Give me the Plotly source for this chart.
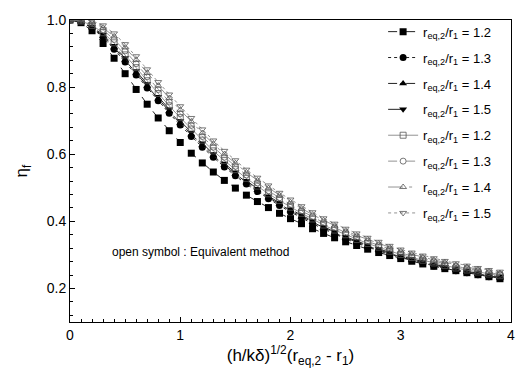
import plotly.graph_objects as go

x = [round(i * 0.1, 1) for i in range(40)]

filled_12 = [1.000, 0.992, 0.968, 0.930, 0.886, 0.840, 0.793, 0.749, 0.708, 0.670,
             0.635, 0.603, 0.574, 0.547, 0.522, 0.499, 0.478, 0.459, 0.441, 0.424,
             0.408, 0.393, 0.378, 0.364, 0.351, 0.339, 0.328, 0.317, 0.307, 0.298,
             0.289, 0.281, 0.273, 0.266, 0.259, 0.253, 0.247, 0.241, 0.235, 0.229]
filled_13 = [1.000, 0.994, 0.976, 0.948, 0.913, 0.875, 0.836, 0.797, 0.759, 0.722,
             0.687, 0.653, 0.621, 0.591, 0.562, 0.536, 0.511, 0.489, 0.467, 0.447,
             0.428, 0.410, 0.393, 0.377, 0.362, 0.348, 0.335, 0.323, 0.312, 0.302,
             0.292, 0.283, 0.275, 0.267, 0.260, 0.253, 0.247, 0.241, 0.235, 0.230]
filled_14 = [1.000, 0.995, 0.978, 0.952, 0.918, 0.881, 0.842, 0.803, 0.765, 0.728,
             0.693, 0.659, 0.627, 0.596, 0.567, 0.541, 0.516, 0.493, 0.471, 0.451,
             0.432, 0.414, 0.397, 0.380, 0.365, 0.351, 0.338, 0.326, 0.315, 0.304,
             0.294, 0.285, 0.277, 0.269, 0.262, 0.255, 0.249, 0.243, 0.237, 0.232]
filled_15 = [1.000, 0.996, 0.980, 0.956, 0.923, 0.887, 0.848, 0.809, 0.771, 0.734,
             0.699, 0.665, 0.633, 0.601, 0.572, 0.546, 0.521, 0.497, 0.475, 0.455,
             0.436, 0.418, 0.401, 0.383, 0.368, 0.354, 0.341, 0.329, 0.318, 0.307,
             0.297, 0.288, 0.280, 0.272, 0.264, 0.257, 0.251, 0.245, 0.239, 0.234]
open_12 = [1.000, 0.997, 0.984, 0.962, 0.932, 0.896, 0.858, 0.819, 0.781, 0.744,
           0.709, 0.675, 0.642, 0.610, 0.581, 0.554, 0.528, 0.505, 0.482, 0.462,
           0.442, 0.424, 0.407, 0.389, 0.374, 0.360, 0.346, 0.334, 0.323, 0.311,
           0.301, 0.292, 0.284, 0.276, 0.268, 0.261, 0.255, 0.249, 0.243, 0.238]
open_13 = [1.000, 0.999, 0.989, 0.970, 0.942, 0.908, 0.870, 0.831, 0.793, 0.756,
           0.721, 0.686, 0.653, 0.621, 0.591, 0.564, 0.538, 0.514, 0.491, 0.470,
           0.450, 0.431, 0.414, 0.396, 0.381, 0.366, 0.353, 0.340, 0.328, 0.317,
           0.306, 0.297, 0.289, 0.280, 0.273, 0.266, 0.260, 0.253, 0.247, 0.242]
open_14 = [1.000, 1.000, 0.994, 0.977, 0.951, 0.918, 0.881, 0.842, 0.804, 0.767,
           0.732, 0.697, 0.663, 0.631, 0.600, 0.573, 0.546, 0.522, 0.499, 0.478,
           0.457, 0.438, 0.420, 0.403, 0.387, 0.372, 0.358, 0.346, 0.334, 0.322,
           0.311, 0.302, 0.293, 0.285, 0.278, 0.270, 0.264, 0.257, 0.251, 0.246]
open_15 = [1.000, 1.000, 0.998, 0.984, 0.960, 0.928, 0.892, 0.853, 0.815, 0.778,
           0.743, 0.708, 0.674, 0.641, 0.610, 0.582, 0.554, 0.530, 0.507, 0.485,
           0.465, 0.445, 0.427, 0.409, 0.393, 0.378, 0.364, 0.351, 0.339, 0.327,
           0.316, 0.307, 0.298, 0.290, 0.282, 0.275, 0.268, 0.261, 0.255, 0.250]

ratios = ["1.2", "1.3", "1.4", "1.5"]
filled_series = [filled_12, filled_13, filled_14, filled_15]
open_series = [open_12, open_13, open_14, open_15]

filled_symbols = ["square", "circle", "triangle-up", "triangle-down"]
open_symbols = ["square-open", "circle-open", "triangle-up-open", "triangle-down-open"]
filled_dash = ["dash", "dot", "dashdot", "longdash"]
open_dash = ["solid", "dash", "longdashdot", "dot"]

FONT = "Liberation Sans, Arial, sans-serif"

fig = go.Figure()
k = 0
for r, ys, sym, dash in zip(ratios, filled_series, filled_symbols, filled_dash):
    fig.add_trace(go.Scatter(
        x=x, y=ys, mode="lines+markers",
        name=f"r<sub>eq,2</sub>/r<sub>1</sub> = {r}",
        legendgroup=f"g{k}",
        line=dict(color="#222", width=1, dash=dash),
        marker=dict(symbol=sym, size=7, color="black"),
    ))
    k += 1
for r, ys, sym, dash in zip(ratios, open_series, open_symbols, open_dash):
    fig.add_trace(go.Scatter(
        x=x, y=ys, mode="lines+markers",
        name=f"r<sub>eq,2</sub>/r<sub>1</sub> = {r}",
        legendgroup=f"g{k}",
        line=dict(color="#777", width=0.8, dash=dash),
        marker=dict(symbol=sym, size=6, color="#555", line=dict(width=0.8, color="#555")),
    ))
    k += 1

fig.add_annotation(
    x=0.36, y=0.31, xref="x", yref="y", xanchor="left", yanchor="middle",
    text="open symbol : Equivalent method", showarrow=False,
    font=dict(family=FONT, size=12, color="black"),
)

fig.update_layout(
    width=527, height=384,
    margin=dict(l=70, r=14, t=13, b=62),
    paper_bgcolor="white", plot_bgcolor="white",
    font=dict(family=FONT, size=13, color="black"),
    showlegend=True,
    legend=dict(
        x=0.71, y=0.66, xanchor="left", yanchor="middle",
        bgcolor="rgba(255,255,255,0)", borderwidth=0,
        font=dict(family=FONT, size=13, color="black"),
        itemwidth=30, tracegroupgap=6,
    ),
    xaxis=dict(
        range=[0, 4], dtick=1, tick0=0,
        ticks="inside", ticklen=5, tickwidth=1, tickcolor="black",
        showline=True, linecolor="black", linewidth=1, mirror=True,
        showgrid=False, zeroline=False,
        minor=dict(dtick=0.1, ticks="inside", ticklen=3, tickcolor="black"),
        title=dict(text="(h/kδ)<sup>1/2</sup>(r<sub>eq,2</sub> - r<sub>1</sub>)",
                   font=dict(family=FONT, size=17), standoff=6),
        tickfont=dict(family=FONT, size=14),
    ),
    yaxis=dict(
        range=[0.1, 1.0], dtick=0.2, tick0=0.2,
        ticks="inside", ticklen=5, tickwidth=1, tickcolor="black",
        showline=True, linecolor="black", linewidth=1, mirror=True,
        showgrid=False, zeroline=False, tickformat=".1f",
        minor=dict(dtick=0.04, tick0=0.2, ticks="inside", ticklen=3, tickcolor="black"),
        title=dict(text="η<sub>f</sub>", font=dict(family=FONT, size=17), standoff=14),
        tickfont=dict(family=FONT, size=14),
    ),
)

fig.write_html("out.html")
